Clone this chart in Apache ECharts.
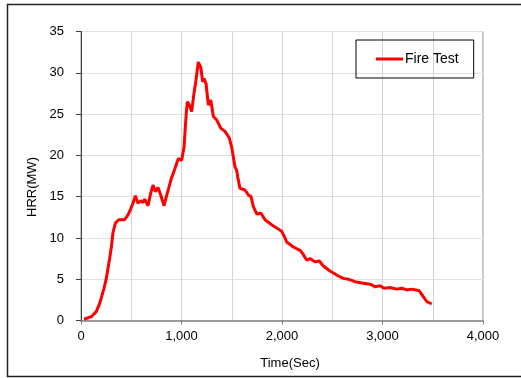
<!DOCTYPE html>
<html>
<head>
<meta charset="utf-8">
<script src="https://cdn.jsdelivr.net/npm/echarts@6/dist/echarts.min.js"></script>
<style>html,body{margin:0;padding:0;background:#fff;}#c{width:521px;height:378px;}</style>
</head>
<body>
<div id="c"></div>
<script>
var seriesName = 'Fire Test';
var timeSec = [30,103,152,186,229,252,285,302,318,342,375,434,468,494,517,541,567,594,617,634,667,693,716,740,766,793,826,849,872,899,935,968,1002,1025,1045,1058,1078,1101,1124,1144,1167,1191,1211,1224,1244,1267,1291,1317,1350,1390,1433,1476,1499,1516,1532,1549,1559,1582,1632,1665,1692,1715,1748,1791,1831,1848,1897,1947,1997,2030,2046,2113,2179,2206,2246,2279,2328,2371,2411,2478,2544,2610,2660,2726,2809,2876,2925,2975,3015,3075,3141,3191,3241,3290,3366,3406,3440,3490];
var hrrMW = [0.15,0.46,1.07,2.08,3.9,5.1,7.5,8.9,10.6,11.8,12.2,12.2,12.8,13.5,14.2,15.1,14.2,14.5,14.3,14.7,13.9,15.4,16.4,15.6,16.1,15.2,13.9,15.0,16.0,17.2,18.4,19.6,19.4,21.0,24.7,26.5,26.1,25.3,27.5,29.1,31.3,30.7,28.9,29.3,28.7,26.1,26.7,24.7,24.3,23.3,22.9,22.1,21.0,19.8,18.6,18.2,17.4,16.0,15.8,15.2,15.0,13.8,12.9,13.0,12.2,12.0,11.6,11.2,10.8,10.0,9.5,8.9,8.5,8.1,7.3,7.5,7.1,7.2,6.6,6.0,5.5,5.1,5.0,4.7,4.5,4.4,4.1,4.2,3.9,4.0,3.8,3.9,3.7,3.8,3.6,2.9,2.3,2.0];
var xAxisName = 'Time(Sec)';
var yAxisName = 'HRR(MW)';

var data = timeSec.map(function (t, i) { return [t, hrrMW[i]]; });
var chart = echarts.init(document.getElementById('c'));
var font = 'Liberation Sans, Arial, sans-serif';
chart.setOption({
  animation: false,
  backgroundColor: '#fff',
  textStyle: { fontFamily: font },
  graphic: [{
    type: 'rect', silent: true, z: 100,
    shape: { x: 7.5, y: 4.5, width: 530, height: 372 },
    style: { fill: 'none', stroke: '#222', lineWidth: 1.5 }
  }],
  grid: { left: 81, top: 31.5, right: 38, bottom: 57.5, show: true, borderColor: '#8c8c8c', borderWidth: 1, containLabel: false },
  legend: {
    left: 356, top: 40,
    padding: [12, 15, 12, 20],
    borderColor: '#000', borderWidth: 1,
    icon: 'rect', itemWidth: 27, itemHeight: 3, itemGap: 2,
    textStyle: { fontSize: 14, color: '#000', fontFamily: font, padding: [0, 0, 0, -3] },
    data: [seriesName]
  },
  xAxis: {
    type: 'value', min: 0, max: 4000, interval: 1000,
    name: xAxisName, nameLocation: 'middle', nameGap: 36,
    nameTextStyle: { fontSize: 13, color: '#000', fontFamily: font, padding: [0, 0, 0, 16] },
    axisLine: { show: true, lineStyle: { color: '#808080', width: 1.5 } },
    axisTick: { show: true, length: 4, lineStyle: { color: '#808080' } },
    axisLabel: { margin: 9, fontSize: 13, color: '#000', fontFamily: font,
      formatter: function (v) { return v.toLocaleString('en-US'); } },
    splitLine: { show: true, lineStyle: { color: '#d4d4d4', width: 1 } },
    minorTick: { show: false, splitNumber: 2 },
    minorSplitLine: { show: true, lineStyle: { color: '#d4d4d4', width: 1 } }
  },
  yAxis: {
    type: 'value', min: 0, max: 35, interval: 5,
    name: yAxisName, nameLocation: 'middle', nameGap: 40, nameRotate: 90,
    nameTextStyle: { fontSize: 13, color: '#000', fontFamily: font, padding: [0, 22, 0, 0] },
    axisLine: { show: true, lineStyle: { color: '#404040', width: 1 } },
    axisTick: { show: true, length: 5, lineStyle: { color: '#404040' } },
    axisLabel: { margin: 17, fontSize: 13, color: '#000', fontFamily: font },
    splitLine: { show: true, lineStyle: { color: '#e0e0e0', width: 1 } }
  },
  series: [{
    name: seriesName, type: 'line', data: data,
    showSymbol: false, symbol: 'none', smooth: false,
    lineStyle: { color: '#ff0000', width: 3 },
    itemStyle: { color: '#ff0000' }
  }]
});
</script>
</body>
</html>
